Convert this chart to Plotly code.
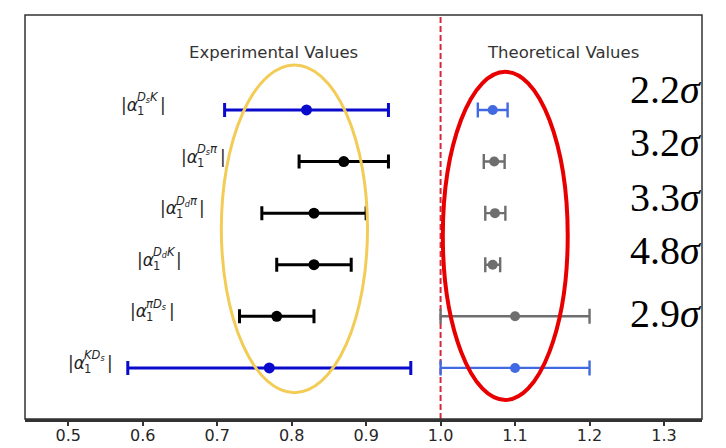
import plotly.graph_objects as go

# Rows, top to bottom
row_sup = ["D<sub>s</sub>K", "D<sub>s</sub>π", "D<sub>d</sub>π", "D<sub>d</sub>K", "πD<sub>s</sub>", "KD<sub>s</sub>"]
row_y = [5, 4, 3, 2, 1, 0]

# Experimental values: central value and interval ends
exp_center = [0.82, 0.87, 0.83, 0.83, 0.78, 0.77]
exp_low = [0.71, 0.81, 0.76, 0.78, 0.73, 0.58]
exp_high = [0.93, 0.93, 0.90, 0.88, 0.83, 0.96]
exp_colors = ["#0a0acc", "#000000", "#000000", "#000000", "#000000", "#0a0acc"]

# Theoretical values: central value and interval ends
th_center = [1.07, 1.072, 1.073, 1.07, 1.10, 1.10]
th_low = [1.05, 1.058, 1.060, 1.060, 1.00, 1.00]
th_high = [1.09, 1.086, 1.087, 1.080, 1.20, 1.20]
th_colors = ["#4169e1", "#6e6e6e", "#6e6e6e", "#6e6e6e", "#6e6e6e", "#4169e1"]

# Tension quoted for the first five rows
sigma_text = ["2.2", "3.2", "3.3", "4.8", "2.9"]
sigma_dy = [0.39, 0.36, 0.30, 0.27, 0.05]

# Left edge of each row label (x units)
label_x = [0.568, 0.649, 0.620, 0.590, 0.580, 0.497]

x_ticks = [0.5, 0.6, 0.7, 0.8, 0.9, 1.0, 1.1, 1.2, 1.3]

fig = go.Figure()

def add_point(x, lo, hi, y, color, size, lw, cap):
    fig.add_trace(go.Scatter(
        x=[x], y=[y], mode="markers",
        marker=dict(color=color, size=size, line=dict(width=0)),
        error_x=dict(type="data", symmetric=False,
                     array=[hi - x], arrayminus=[x - lo],
                     color=color, thickness=lw, width=cap),
        showlegend=False, hoverinfo="skip",
    ))

for i, y in enumerate(row_y):
    add_point(exp_center[i], exp_low[i], exp_high[i], y, exp_colors[i], 11, 3, 7)
    add_point(th_center[i], th_low[i], th_high[i], y, th_colors[i], 10, 2.4, 7.5)

ann = []
lab_color = "#262626"
for i, y in enumerate(row_y):
    base = dict(x=label_x[i], y=y, xref="x", yref="y", xanchor="left",
                yanchor="middle", showarrow=False)
    ann.append(dict(base, text="|<i>α</i>", yshift=5,
                    font=dict(family="DejaVu Sans", size=17, color=lab_color)))
    ann.append(dict(base, text="1", xshift=16, yshift=-1,
                    font=dict(family="DejaVu Sans", size=11.5, color=lab_color)))
    ann.append(dict(base, text="<i>" + row_sup[i] + "</i>", xshift=16, yshift=12,
                    font=dict(family="DejaVu Sans", size=11.5, color=lab_color)))
    ann.append(dict(base, text="|", xshift=39, yshift=5,
                    font=dict(family="DejaVu Sans", size=17, color=lab_color)))

for i, s in enumerate(sigma_text):
    ann.append(dict(x=1.2513, y=row_y[i] + sigma_dy[i], xref="x", yref="y",
                    xanchor="left", yanchor="middle", showarrow=False,
                    text=s + "<i>σ</i>",
                    font=dict(family="Liberation Serif", size=40, color="#000000")))

ann.append(dict(x=0.775, y=6.12, xref="x", yref="y", showarrow=False,
                text="Experimental Values",
                font=dict(family="DejaVu Sans", size=16.5, color="#333333")))
ann.append(dict(x=1.165, y=6.12, xref="x", yref="y", showarrow=False,
                text="Theoretical Values",
                font=dict(family="DejaVu Sans", size=16.5, color="#333333")))

shapes = [
    # reference line at unity
    dict(type="line", xref="x", yref="paper", x0=1.0, x1=1.0, y0=0, y1=1,
         line=dict(color="#d42a3a", width=2, dash="6px,3px"), layer="below"),
    # grouping ellipses
    dict(type="circle", xref="x", yref="y", x0=0.7056, x1=0.9019, y0=-0.48, y1=5.87,
         line=dict(color="#f3cc58", width=3), layer="above"),
    dict(type="circle", xref="x", yref="y", x0=1.003, x1=1.1707, y0=-0.62, y1=5.74,
         line=dict(color="#e80000", width=4), layer="above"),
    # frame
    dict(type="rect", xref="paper", yref="paper", x0=0, x1=1, y0=0, y1=1,
         line=dict(color="#333333", width=1.5), layer="above"),
]

fig.update_layout(
    width=726, height=448,
    margin=dict(l=25, r=24, t=15, b=29),
    paper_bgcolor="white", plot_bgcolor="white",
    annotations=ann, shapes=shapes,
    xaxis=dict(range=[0.442, 1.351], tickvals=x_ticks,
               ticktext=[f"{v:.1f}" for v in x_ticks],
               ticks="outside", ticklen=4, tickwidth=1.5, tickcolor="#333333",
               ticklabelstandoff=-4,
               showline=True, linecolor="#333333", linewidth=2.5,
               showgrid=False, zeroline=False, automargin=False,
               tickfont=dict(family="DejaVu Sans", size=16, color="#262626")),
    yaxis=dict(range=[-0.99, 6.84], showticklabels=False, ticks="",
               showgrid=False, zeroline=False, showline=False, automargin=False),
)

fig.write_html("out.html")
